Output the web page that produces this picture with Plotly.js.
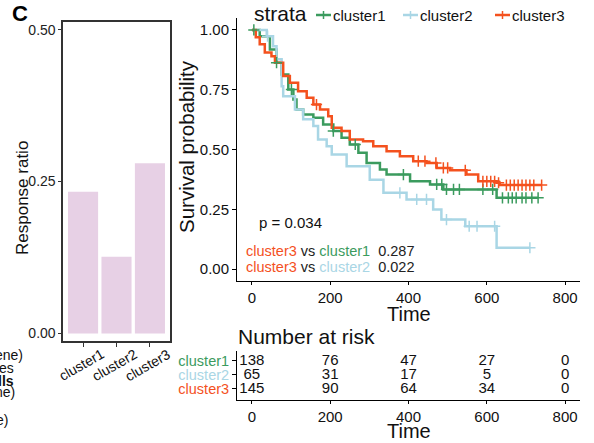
<!DOCTYPE html>
<html><head><meta charset="utf-8">
<script src="https://cdn.plot.ly/plotly-3.0.1.min.js"></script>
<style>html,body{margin:0;padding:0;background:#fff}#chart{width:594px;height:443px}</style>
</head><body><div id="chart"></div>
<script>
// ---------- data ----------
const barCategories = ['cluster1', 'cluster2', 'cluster3'];
const responseRatio = [0.233, 0.126, 0.280];

const strata = ['cluster1', 'cluster2', 'cluster3'];
const strataColors = ['#3B9B5E', '#A9D6E5', '#F4511E'];

const stepTimes1 = [0, 20, 46, 63, 76, 93, 106, 114, 131, 157, 182, 208, 229, 250, 272, 293, 327, 344, 404, 455, 489, 625];
const stepSurv1  = [1.0, 0.974, 0.918, 0.863, 0.814, 0.751, 0.709, 0.667, 0.646, 0.633, 0.605, 0.577, 0.549, 0.521, 0.486, 0.444, 0.416, 0.395, 0.367, 0.354, 0.333, 0.298];
const censor1    = [5, 63, 101, 208, 264, 387, 472, 485, 497, 515, 530, 590, 615, 640, 655, 665, 675, 690, 700, 715, 731];
const endTime1   = 731;

const stepTimes2 = [0, 38, 54, 63, 76, 80, 110, 131, 157, 169, 191, 204, 242, 301, 336, 395, 463, 484, 545, 625];
const stepSurv2  = [1.0, 0.974, 0.932, 0.877, 0.765, 0.723, 0.667, 0.626, 0.598, 0.542, 0.514, 0.479, 0.43, 0.374, 0.319, 0.291, 0.249, 0.207, 0.179, 0.089];
const censor2    = [40, 378, 421, 446, 497, 555, 575, 620, 710];
const endTime2   = 710;

const stepTimes3 = [0, 10, 20, 33, 50, 59, 80, 97, 118, 140, 157, 174, 195, 204, 229, 250, 284, 310, 344, 378, 412, 446, 472, 506, 548, 578, 625, 633];
const stepSurv3  = [1.0, 0.97, 0.94, 0.906, 0.89, 0.863, 0.807, 0.779, 0.744, 0.716, 0.688, 0.667, 0.639, 0.591, 0.577, 0.542, 0.535, 0.514, 0.493, 0.472, 0.451, 0.444, 0.423, 0.413, 0.395, 0.367, 0.361, 0.351];
const censor3    = [165, 425, 442, 470, 489, 500, 545, 590, 600, 610, 620, 630, 650, 660, 670, 680, 690, 700, 710, 720, 740];
const endTime3   = 740;

const riskTimes = [0, 200, 400, 600, 800];
const risk1 = [138, 76, 47, 27, 0];
const risk2 = [65, 31, 17, 5, 0];
const risk3 = [145, 90, 64, 34, 0];

const pValueText = 'p = 0.034';
const pairwise = [['cluster3', 'cluster1', '0.287'], ['cluster3', 'cluster2', '0.022']];
const cutTexts = ['ene)', 'es', 'lls', 'ne)', 'e)'];

// ---------- helpers ----------
const W = 594, H = 443;
const fx = p => p / W;
const fy = p => 1 - p / H;
const FONT = 'Liberation Sans, Arial, sans-serif';

function survAt(times, surv, t) {
  let s = surv[0];
  for (let i = 0; i < times.length; i++) { if (times[i] <= t) s = surv[i]; }
  return s;
}

const kmSets = [
  [stepTimes1, stepSurv1, censor1, endTime1],
  [stepTimes2, stepSurv2, censor2, endTime2],
  [stepTimes3, stepSurv3, censor3, endTime3]
];

const traces = [];
traces.push({
  type: 'bar', x: barCategories, y: responseRatio, xaxis: 'x', yaxis: 'y',
  width: 0.9, marker: {color: '#E7D0E5'}, showlegend: false, hoverinfo: 'skip'
});

kmSets.forEach((k, i) => {
  const [tt, ss, cc, end] = k;
  traces.push({
    type: 'scatter', mode: 'lines', x: tt.concat([end]), y: ss.concat([ss[ss.length - 1]]),
    xaxis: 'x2', yaxis: 'y2', line: {shape: 'hv', color: strataColors[i], width: 2.5},
    showlegend: false, hoverinfo: 'skip'
  });
});
kmSets.forEach((k, i) => {
  const [tt, ss, cc] = k;
  traces.push({
    type: 'scatter', mode: 'markers', x: cc, y: cc.map(c => survAt(tt, ss, c)),
    xaxis: 'x2', yaxis: 'y2',
    marker: {symbol: 'cross-thin-open', size: 8, color: strataColors[i], line: {color: strataColors[i], width: 1.5}},
    showlegend: false, hoverinfo: 'skip'
  });
});

[risk1, risk2, risk3].forEach((r, i) => {
  traces.push({
    type: 'scatter', mode: 'text', x: riskTimes, y: riskTimes.map(() => 3 - i),
    text: r.map(String), textposition: 'middle center',
    textfont: {family: FONT, size: 15, color: '#111'},
    xaxis: 'x3', yaxis: 'y3', showlegend: false, hoverinfo: 'skip'
  });
});

// ---------- annotations ----------
const ann = [];
function A(o) {
  ann.push(Object.assign({xref: 'paper', yref: 'paper', showarrow: false, xanchor: 'center', yanchor: 'middle'}, o));
}
A({text: '<b>C</b>', x: fx(20), y: fy(14), font: {family: FONT, size: 22, color: '#000'}});
A({text: 'Response ratio', x: fx(22), y: fy(198), textangle: -90, font: {family: FONT, size: 17, color: '#111'}});
barCategories.forEach(c => A({text: c, x: c, xref: 'x', y: fy(365), xshift: -2, textangle: -30,
  font: {family: FONT, size: 14, color: '#111'}}));
A({text: 'Survival probability', x: fx(187), y: fy(147), textangle: -90, font: {family: FONT, size: 20.5, color: '#111'}});
A({text: 'Time', x: 400, xref: 'x2', y: fy(314), font: {family: FONT, size: 20, color: '#111'}});
A({text: 'Time', x: 400, xref: 'x3', y: fy(431), font: {family: FONT, size: 20, color: '#111'}});
A({text: 'Number at risk', x: fx(236), y: fy(336), xanchor: 'left', font: {family: FONT, size: 21, color: '#111'}});
A({text: pValueText, x: fx(257), y: fy(222), xanchor: 'left', font: {family: FONT, size: 15, color: '#111'}});
const colorOf = name => strataColors[strata.indexOf(name)];
pairwise.forEach((p, i) => A({
  text: `<span style="color:${colorOf(p[0])}">${p[0]}</span> vs <span style="color:${colorOf(p[1])}">${p[1]}</span>  ${p[2]}`,
  x: fx(244), y: fy(251 + i * 15.5), xanchor: 'left', font: {family: FONT, size: 14.5, color: '#222'}
}));
// legend
A({text: 'strata', x: fx(252), y: fy(14), xanchor: 'left', font: {family: FONT, size: 21, color: '#111'}});
const legX = [316, 403, 495];
const shapes = [];
strata.forEach((s, i) => {
  A({text: s, x: fx(legX[i] + 15), y: fy(15), xanchor: 'left', font: {family: FONT, size: 15, color: '#111'}});
  shapes.push({type: 'line', xref: 'paper', yref: 'paper', x0: fx(legX[i]), x1: fx(legX[i] + 15),
    y0: fy(15), y1: fy(15), line: {color: strataColors[i], width: 2.5}});
  shapes.push({type: 'line', xref: 'paper', yref: 'paper', x0: fx(legX[i] + 7.5), x1: fx(legX[i] + 7.5),
    y0: fy(11), y1: fy(19), line: {color: strataColors[i], width: 1.5}});
});
// cut-off text from neighbouring panel
const cutY = [355, 368, 381, 392, 420];
const cutX = [25, 16, 16, 17, 10];
cutTexts.forEach((t, i) => A({text: i === 2 ? '<b>' + t + '</b>' : t, x: fx(cutX[i]), y: fy(cutY[i]),
  xanchor: 'right', font: {family: FONT, size: 14, color: '#111'}}));

const riskTickText = strata.map((s, i) => `<span style="color:${strataColors[i]}">${s}</span>`);

const axBase = {showgrid: false, zeroline: false, ticks: 'outside', showline: true, fixedrange: true};

const layout = {
  width: W, height: H, margin: {l: 0, r: 0, t: 0, b: 0},
  paper_bgcolor: '#fff', plot_bgcolor: 'rgba(0,0,0,0)',
  font: {family: FONT, color: '#111'},
  showlegend: false,
  xaxis: Object.assign({}, axBase, {domain: [fx(63), fx(170)], anchor: 'y', range: [-0.6, 2.6], type: 'category',
    showticklabels: false, ticklen: 4, tickcolor: '#333', linecolor: '#333', linewidth: 1.6, mirror: true}),
  yaxis: Object.assign({}, axBase, {domain: [fy(341), fy(22)], anchor: 'x', range: [-0.0125, 0.5125],
    tickvals: [0, 0.25, 0.5], ticktext: ['0.00', '0.25', '0.50'], ticklen: 3, tickcolor: '#333',
    linecolor: '#333', linewidth: 1.6, mirror: true, tickfont: {family: FONT, size: 14, color: '#222'}}),
  xaxis2: Object.assign({}, axBase, {domain: [fx(237), fx(580)], anchor: 'y2', range: [-38, 838],
    tickvals: riskTimes, ticklen: 3, tickcolor: '#000', linecolor: '#000', linewidth: 1,
    tickfont: {family: FONT, size: 15, color: '#111'}}),
  yaxis2: Object.assign({}, axBase, {domain: [fy(281), fy(18)], anchor: 'x2', range: [-0.05, 1.05],
    tickvals: [0, 0.25, 0.5, 0.75, 1], ticktext: ['0.00', '0.25', '0.50', '0.75', '1.00'], ticklen: 4,
    tickcolor: '#000', linecolor: '#000', linewidth: 1, tickfont: {family: FONT, size: 15, color: '#111'}}),
  xaxis3: Object.assign({}, axBase, {domain: [fx(237), fx(580)], anchor: 'y3', range: [-38, 838],
    tickvals: riskTimes, ticklen: 3, tickcolor: '#000', linecolor: '#000', linewidth: 1,
    tickfont: {family: FONT, size: 15, color: '#111'}}),
  yaxis3: Object.assign({}, axBase, {domain: [fy(400), fy(351)], anchor: 'x3', range: [0.2, 3.7],
    tickvals: [3, 2, 1], ticktext: riskTickText, ticklen: 4, tickcolor: '#000', linecolor: '#000', linewidth: 1,
    tickfont: {family: FONT, size: 14.5}}),
  annotations: ann,
  shapes: shapes
};

Plotly.newPlot('chart', traces, layout, {staticPlot: true, displayModeBar: false});
</script>
</body></html>
